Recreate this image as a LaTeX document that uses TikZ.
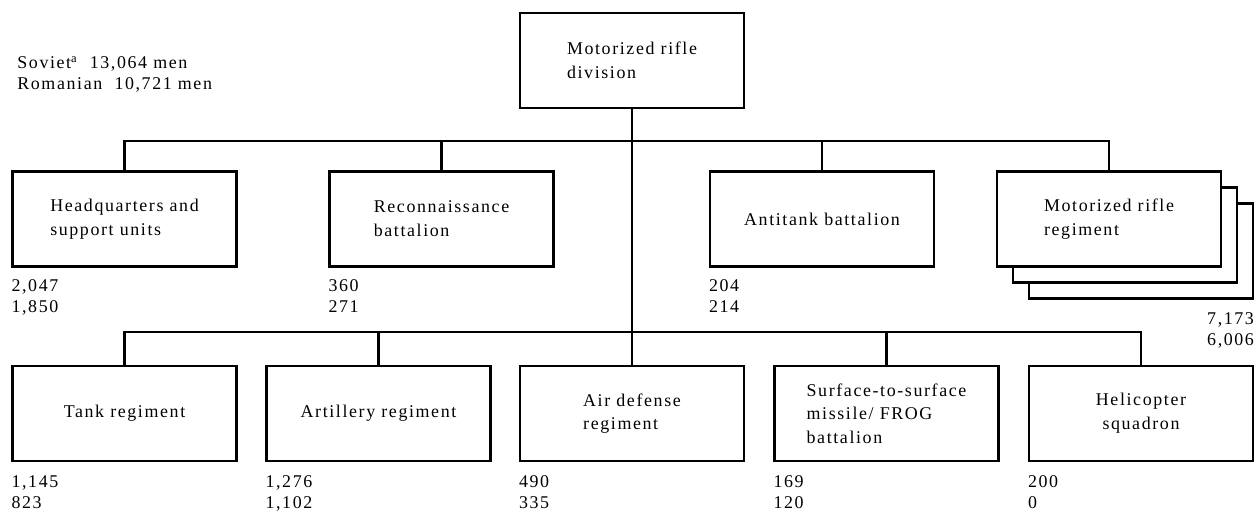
\documentclass[tikz,border=0pt]{standalone}
\usepackage{fontspec}
\setmainfont[LetterSpace = 9]{Liberation Serif}
\usetikzlibrary{positioning}
\tikzset{
    unitbox/.style = {draw, line width = 1.5pt, fill = white, minimum width = 4.48cm, minimum height = 1.9cm, inner sep = 0pt, font = \fontsize{10.2}{13.5}\selectfont},
    countlabel/.style = {align = left, inner sep = 0pt, font = \fontsize{10.2}{12}\selectfont},
    link/.style = {line width = 1.4pt}
}

\begin{document}
\begin{tikzpicture}[x = 0.02cm, y = -0.02cm]
    % Cornice
    \useasboundingbox (0,0) rectangle (1258,516);
    % Totali
    \node[countlabel, anchor = north west] (totali) at (17,56) {Soviet\textsuperscript{a}\ \ 13,064 men\\Romanian\ \ 10,721 men};
    % Divisione
    \node[unitbox, align = left] (div) at (632,60.5) {Motorized rifle\\division};
    % Prima fila
    \node[unitbox, align = left] (hq) at (124.5,219) {Headquarters and\\support units};
    \node[unitbox, align = left] (recon) at (441.5,219) {Reconnaissance\\battalion};
    \node[unitbox] (atk) at (822,219) {Antitank battalion};
    % Reggimenti (pila di tre)
    \node[unitbox] (mrr3) at (1141,251) {};
    \node[unitbox] (mrr2) at (1125,235) {};
    \node[unitbox, align = left] (mrr) at (1109,219) {Motorized rifle\\regiment};
    % Seconda fila
    \node[unitbox] (tank) at (124.5,413.5) {Tank regiment};
    \node[unitbox] (arty) at (378.5,413.5) {Artillery regiment};
    \node[unitbox, align = left] (airdef) at (632,413.5) {Air defense\\regiment};
    \node[unitbox, align = left] (ssm) at (886.5,413.5) {Surface-to-surface\\missile/ FROG\\battalion};
    \node[unitbox, align = center] (heli) at (1141,413.5) {Helicopter\\squadron};
    % Collegamenti
    \coordinate (bus1) at (632,141);
    \coordinate (bus2) at (632,332);
    \draw[link] (hq.north) |- (bus1) -| (mrr.north);
    \draw[link] (recon.north) -- (recon.north |- bus1);
    \draw[link] (atk.north) -- (atk.north |- bus1);
    \draw[link] (div.south) -- (airdef.north);
    \draw[link] (tank.north) |- (bus2) -| (heli.north);
    \draw[link] (arty.north) -- (arty.north |- bus2);
    \draw[link] (ssm.north) -- (ssm.north |- bus2);
    % Effettivi
    \node[countlabel, below = 0.22cm of hq.south west, anchor = north west] (hq-n) {2,047\\1,850};
    \node[countlabel, below = 0.22cm of recon.south west, anchor = north west] (recon-n) {360\\271};
    \node[countlabel, below = 0.22cm of atk.south west, anchor = north west] (atk-n) {204\\214};
    \node[countlabel, align = right, below = 0.24cm of mrr3.south east, anchor = north east] (mrr-n) {7,173\\6,006};
    \node[countlabel, below = 0.26cm of tank.south west, anchor = north west] (tank-n) {1,145\\823};
    \node[countlabel, below = 0.26cm of arty.south west, anchor = north west] (arty-n) {1,276\\1,102};
    \node[countlabel, below = 0.26cm of airdef.south west, anchor = north west] (airdef-n) {490\\335};
    \node[countlabel, below = 0.26cm of ssm.south west, anchor = north west] (ssm-n) {169\\120};
    \node[countlabel, below = 0.26cm of heli.south west, anchor = north west] (heli-n) {200\\0};
\end{tikzpicture}
\end{document}
